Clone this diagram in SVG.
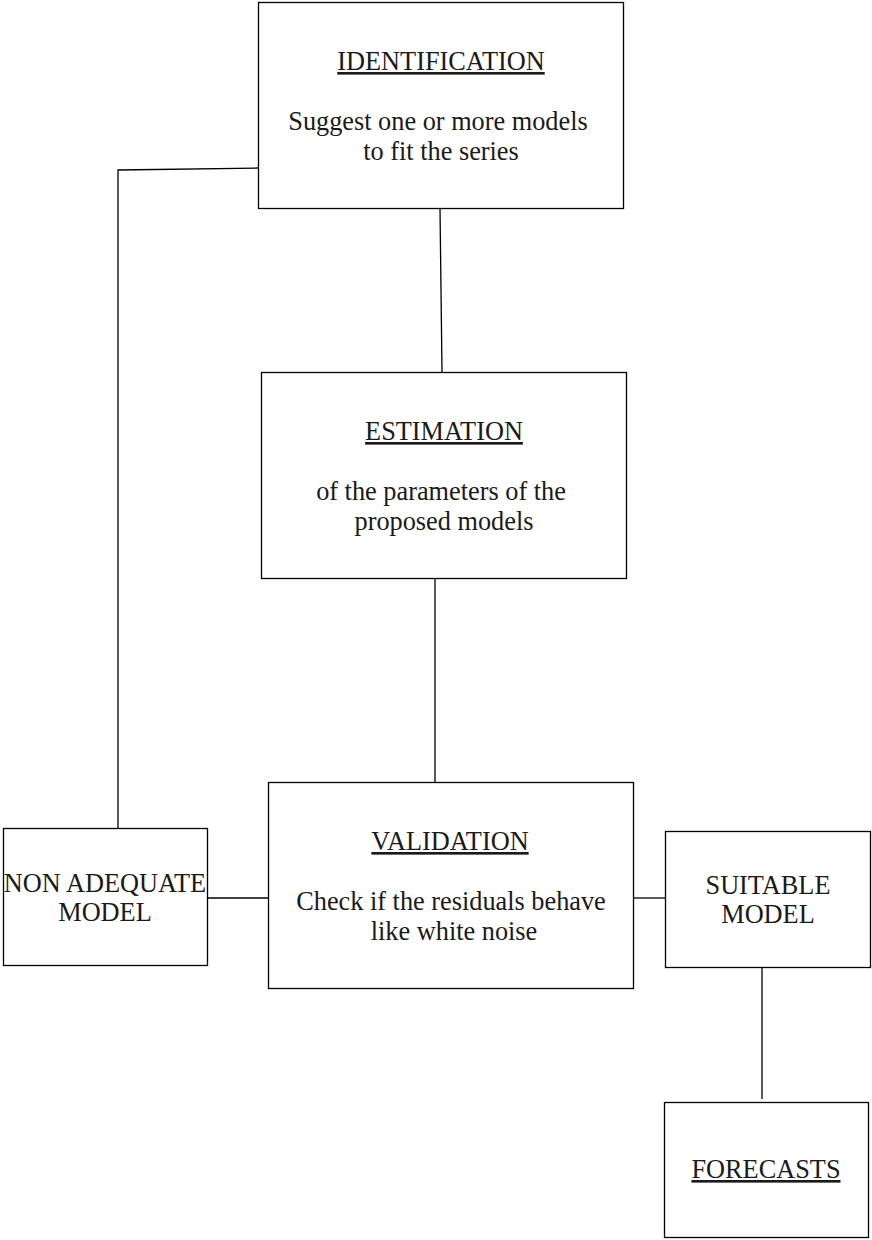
<svg xmlns="http://www.w3.org/2000/svg" width="872" height="1240" viewBox="0 0 872 1240">
<style>
.n{fill:#fff;stroke:#000;stroke-width:1.3}
line,polyline{stroke:#000;stroke-width:1.3;fill:none}
text{font-family:"Liberation Serif","Times New Roman",serif;font-size:26.3px;fill:#1a1a1a;text-anchor:middle}
.t{text-decoration:underline}
</style>
<rect width="872" height="1240" fill="#fff"/>
<g id="connectors">
<line x1="440" y1="208" x2="442" y2="372"/>
<line x1="435" y1="578" x2="435" y2="782"/>
<polyline points="118,828 118,170 258,168"/>
<line x1="207" y1="898" x2="268" y2="898"/>
<line x1="633" y1="898" x2="665" y2="898"/>
<line x1="762" y1="967" x2="762" y2="1099"/>
</g>
<g id="identification">
<rect class="n" x="258.5" y="2.5" width="365" height="206"/>
<text class="t" x="441" y="70">IDENTIFICATION</text>
<text x="438" y="130">Suggest one or more models</text>
<text x="441" y="160">to fit the series</text>
</g>
<g id="estimation">
<rect class="n" x="261.5" y="372.5" width="365" height="206"/>
<text class="t" x="444" y="440">ESTIMATION</text>
<text x="441" y="500">of the parameters of the</text>
<text x="444" y="530">proposed models</text>
</g>
<g id="validation">
<rect class="n" x="268.5" y="782.5" width="365" height="206"/>
<text class="t" x="450" y="850">VALIDATION</text>
<text x="451" y="910">Check if the residuals behave</text>
<text x="454" y="940">like white noise</text>
</g>
<g id="non-adequate">
<rect class="n" x="3.5" y="828.5" width="204" height="137"/>
<text x="105" y="892">NON ADEQUATE</text>
<text x="105" y="921">MODEL</text>
</g>
<g id="suitable">
<rect class="n" x="665.5" y="831.5" width="205" height="136"/>
<text x="768" y="894">SUITABLE</text>
<text x="768" y="923">MODEL</text>
</g>
<g id="forecasts">
<rect class="n" x="664.5" y="1102.5" width="204" height="135"/>
<text class="t" x="766" y="1178">FORECASTS</text>
</g>
</svg>
